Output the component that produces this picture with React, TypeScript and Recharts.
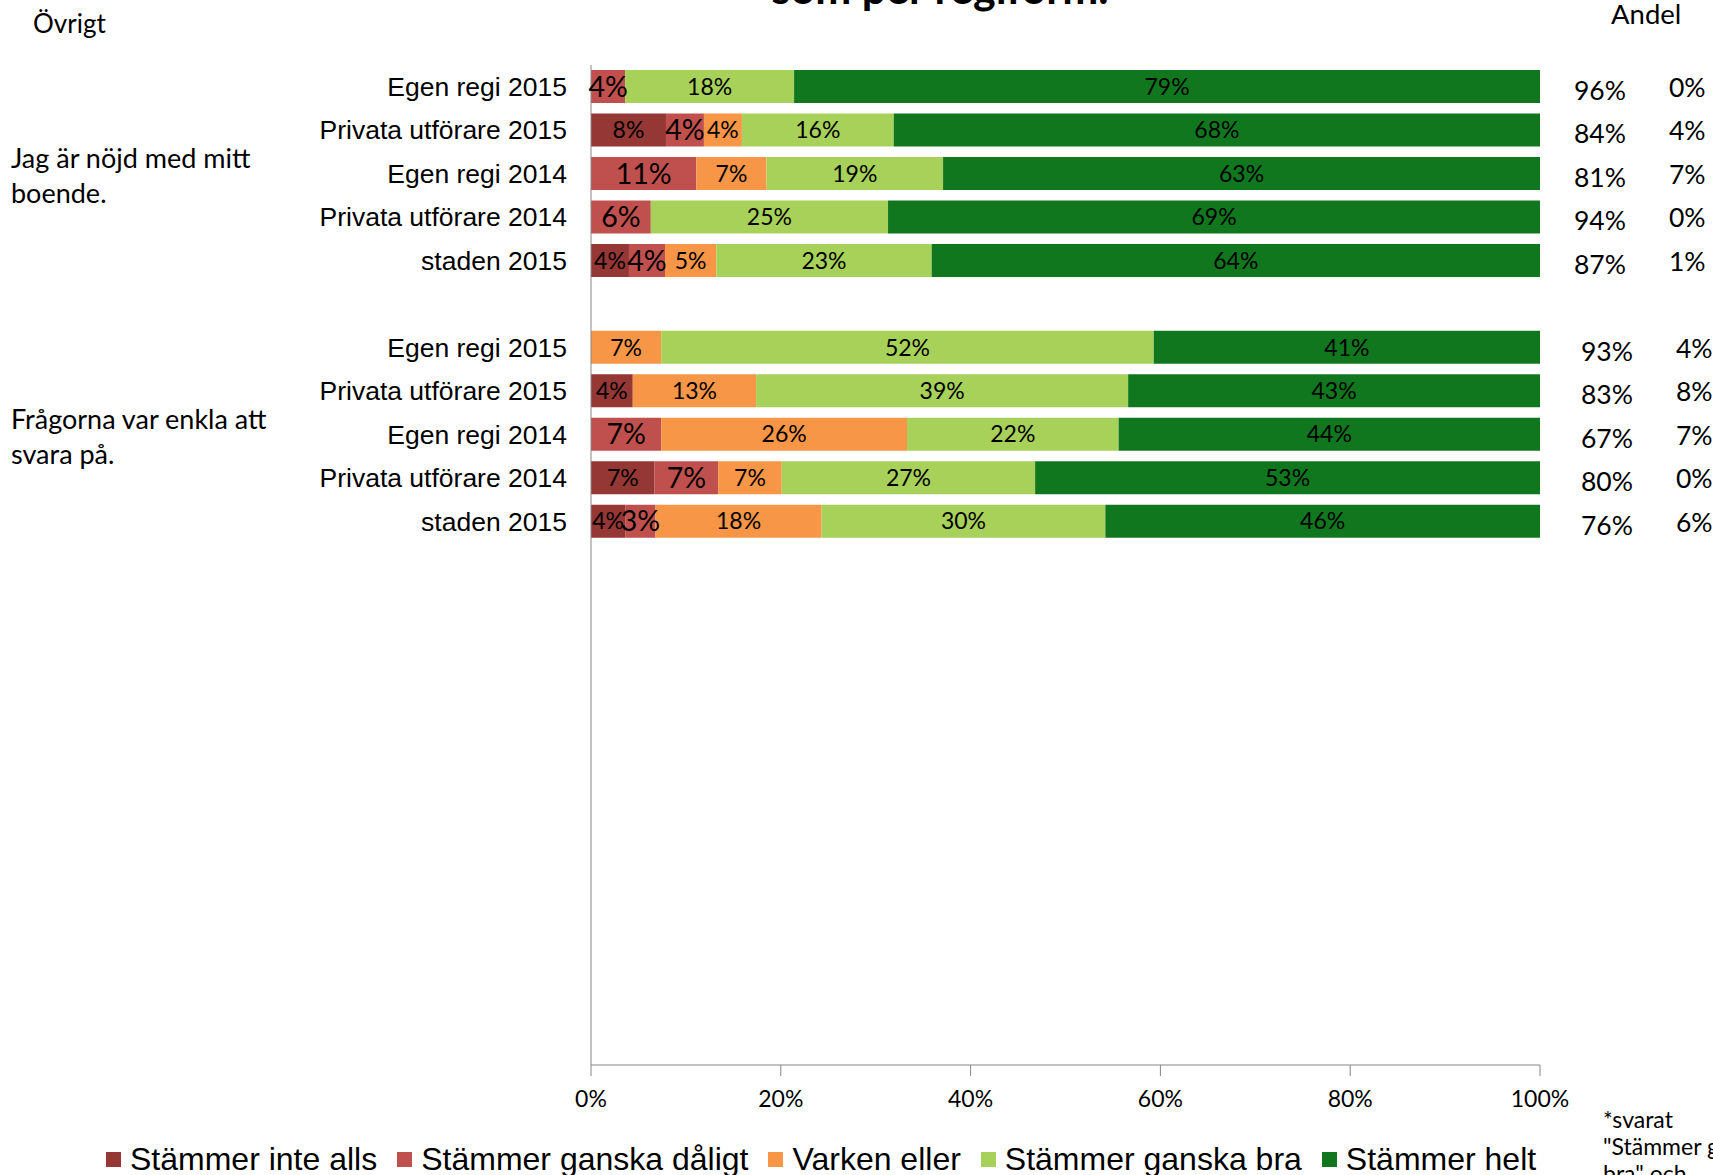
import { BarChart, Bar, XAxis, YAxis, LabelList } from 'recharts';

const rowLabels = [
  'Egen regi 2015',
  'Privata utförare 2015',
  'Egen regi 2014',
  'Privata utförare 2014',
  'staden 2015',
  '',
  'Egen regi 2015',
  'Privata utförare 2015',
  'Egen regi 2014',
  'Privata utförare 2014',
  'staden 2015',
];
const totalRows = 23;

const inteAlls = [0, 7.9, 0, 0, 4.0, 0, 0, 4.4, 0, 6.7, 3.6];
const ganskaDaligt = [3.6, 4.0, 11.1, 6.3, 3.8, 0, 0, 0, 7.4, 6.7, 3.2];
const varkenEller = [0, 4.0, 7.4, 0, 5.4, 0, 7.4, 13.0, 25.9, 6.7, 17.5];
const ganskaBra = [17.8, 16.0, 18.6, 25.0, 22.7, 0, 51.9, 39.2, 22.3, 26.7, 29.9];
const helt = [78.6, 68.1, 62.9, 68.7, 64.1, 0, 40.7, 43.4, 44.4, 53.2, 45.8];

const andelNojd = ['96%', '84%', '81%', '94%', '87%', '', '93%', '83%', '67%', '80%', '76%'];
const andelMissnojd = ['0%', '4%', '7%', '0%', '1%', '', '4%', '8%', '7%', '0%', '6%'];

const groupLabels = [
  { row: 2, lines: ['Jag är nöjd med mitt', 'boende.'] },
  { row: 8, lines: ['Frågorna var enkla att', 'svara på.'] },
];

const titleLines = ['Svarsfördelning för frågorna, andel', 'som per regiform.'];

const xTicks = [0, 20, 40, 60, 80, 100];

const series = [
  { key: 'inteAlls', name: 'Stämmer inte alls', color: '#953735', values: inteAlls },
  { key: 'ganskaDaligt', name: 'Stämmer ganska dåligt', color: '#C0504D', values: ganskaDaligt },
  { key: 'varkenEller', name: 'Varken eller', color: '#F79646', values: varkenEller },
  { key: 'ganskaBra', name: 'Stämmer ganska bra', color: '#A8D15A', values: ganskaBra },
  { key: 'helt', name: 'Stämmer helt', color: '#10771E', values: helt },
];

const data = Array.from({ length: totalRows }, (_, i) => {
  const row: Record<string, number> = { id: i };
  series.forEach((s) => {
    row[s.key] = s.values[i] ?? 0;
  });
  return row;
});

const calibri = 'Lato, "Open Sans", sans-serif';
const arial = '"Liberation Sans", Arial, sans-serif';
const axisGray = '#868686';

function LeftTick(props: any) {
  const { x, y, payload } = props;
  const i = payload.value;
  const group = groupLabels.find((g) => g.row === i);
  return (
    <g>
      <text x={x} y={y} dy="0.35em" textAnchor="end" fontFamily={arial} fontSize={26.5} fill="#000">
        {rowLabels[i] ?? ''}
      </text>
      {group && (
        <text x={11} y={y} fontFamily={calibri} fontSize={27} fill="#000">
          {group.lines.map((line, k) => (
            <tspan key={k} x={11} y={y - 15 + k * 35} dy="0.35em">
              {line}
            </tspan>
          ))}
        </text>
      )}
    </g>
  );
}

function RightTick(props: any) {
  const { x, y, payload } = props;
  const i = payload.value;
  const shift = i > 5 ? 7 : 0;
  return (
    <g fontFamily={calibri} fontSize={26.5} fill="#000">
      <text x={x + 34 + shift} y={y + 4} dy="0.35em">
        {andelNojd[i] ?? ''}
      </text>
      <text x={x + 129 + shift} y={y + 1} dy="0.35em">
        {andelMissnojd[i] ?? ''}
      </text>
    </g>
  );
}

const pct = (v: any) => (v ? `${Math.round(v)}%` : '');

export default function App() {
  return (
    <div
      style={{
        position: 'absolute',
        left: 0,
        top: 0,
        width: 1713,
        height: 1175,
        background: '#fff',
        overflow: 'hidden',
      }}
    >
      <BarChart
        width={1713}
        height={1175}
        data={data}
        layout="vertical"
        margin={{ top: 65, right: 0, bottom: 60, left: 0 }}
        barSize={33}
      >
        <text x={940} y={4} textAnchor="middle" fontFamily={calibri} fontWeight={700} fontSize={43} fill="#000">
          <tspan x={940} y={-46}>
            {titleLines[0]}
          </tspan>
          <tspan x={940} y={4}>
            {titleLines[1]}
          </tspan>
        </text>
        <XAxis
          type="number"
          domain={[0, 100]}
          ticks={xTicks}
          tickFormatter={(v) => `${v}%`}
          height={50}
          stroke={axisGray}
          tickSize={11}
          tickMargin={15}
          tick={{ fill: '#000', fontFamily: calibri, fontSize: 23 }}
        />
        <YAxis
          type="category"
          dataKey="id"
          width={591}
          interval={0}
          stroke={axisGray}
          tickLine={false}
          tickSize={0}
          tickMargin={24}
          tick={<LeftTick />}
        />
        <YAxis
          yAxisId="right"
          type="category"
          dataKey="id"
          orientation="right"
          width={173}
          interval={0}
          axisLine={false}
          tickLine={false}
          tickSize={0}
          tickMargin={0}
          tick={<RightTick />}
        />
        {series.map((s) => (
          <Bar key={s.key} dataKey={s.key} name={s.name} stackId="a" fill={s.color} isAnimationActive={false}>
            <LabelList
              dataKey={s.key}
              position="center"
              formatter={pct}
              fill="#000"
              fontFamily={calibri}
              fontSize={s.key === 'ganskaDaligt' ? 28.5 : 23}
            />
          </Bar>
        ))}
      </BarChart>

      <div style={{ position: 'absolute', left: 33, top: 7, fontFamily: calibri, fontSize: 26 }}>Övrigt</div>
      <div style={{ position: 'absolute', left: 1611, top: -3, fontFamily: calibri, fontSize: 27.5 }}>Andel</div>
      <div
        style={{
          position: 'absolute',
          left: 1603,
          top: 1106,
          fontFamily: calibri,
          fontSize: 23,
          lineHeight: '27px',
          whiteSpace: 'nowrap',
        }}
      >
        *svarat
        <br />
        "Stämmer ganska
        <br />
        bra" och
      </div>

      <div
        style={{
          position: 'absolute',
          left: 106,
          top: 1141,
          display: 'flex',
          alignItems: 'center',
          gap: 20,
          fontFamily: arial,
          fontSize: 32,
          whiteSpace: 'nowrap',
        }}
      >
        {series.map((s) => (
          <div key={s.key} style={{ display: 'flex', alignItems: 'center' }}>
            <span style={{ width: 15, height: 15, background: s.color, marginRight: 9, display: 'inline-block' }} />
            <span>{s.name}</span>
          </div>
        ))}
      </div>
    </div>
  );
}
